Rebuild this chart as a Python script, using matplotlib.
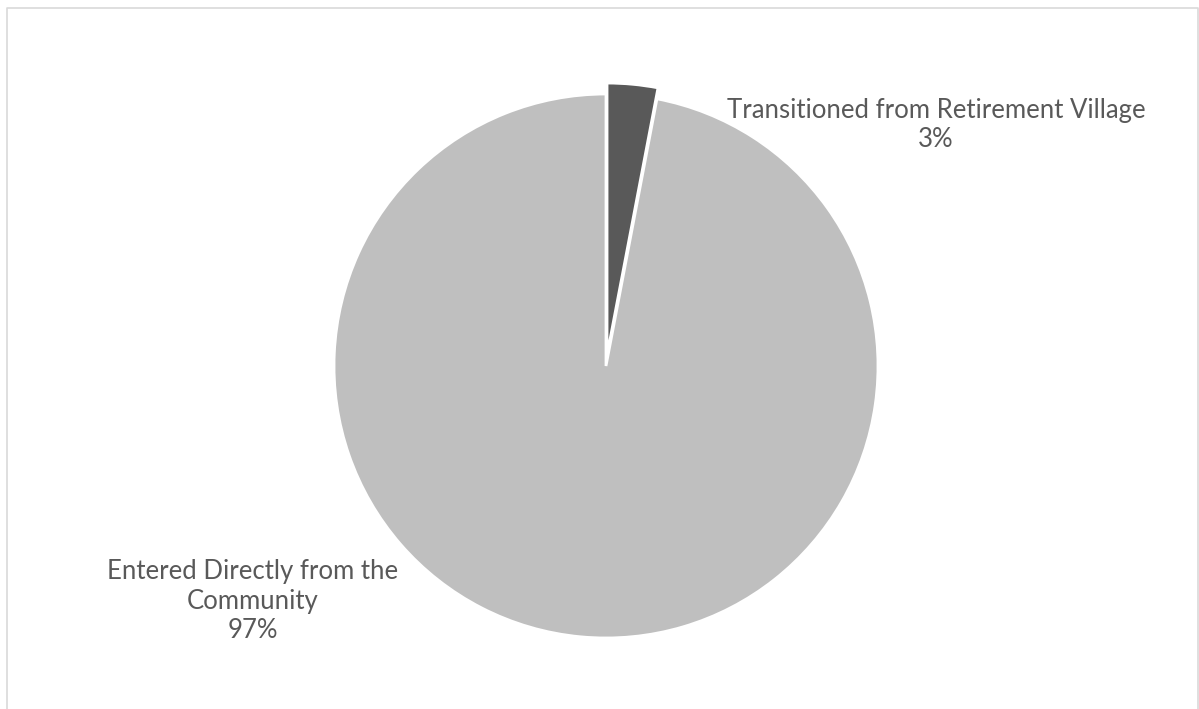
import matplotlib.pyplot as plt

labels = ["Transitioned from Retirement Village", "Entered Directly from the\nCommunity"]
values = [3, 97]
colors = ["#595959", "#bfbfbf"]

W, H = 1199, 709
fig = plt.figure(figsize=(W / 100, H / 100), dpi=100)
ax = fig.add_axes([0, 0, 1, 1])

cx, cy, r = 606, H - 366, 272
ax.pie(values, colors=colors, startangle=90, counterclock=False,
       center=(cx, cy), radius=r, explode=[11, 0],
       wedgeprops={"edgecolor": "white", "linewidth": 2})
ax.set_xlim(0, W)
ax.set_ylim(0, H)
ax.set_aspect("auto")
ax.axis("off")

# chart area border
ax.plot([7, 7, 1198, 1198], [0, H - 8, H - 8, 0], color="#d9d9d9", lw=1.2)

txt = dict(ha="center", va="center", color="#595959", fontsize=18.5, family="Lato",
           linespacing=1.2)
ax.text(936, H - 125, f"{labels[0]}\n{values[0]}%", **txt)
ax.text(253, H - 601, f"{labels[1]}\n{values[1]}%", **txt)

fig.savefig("out.png", dpi=100)
